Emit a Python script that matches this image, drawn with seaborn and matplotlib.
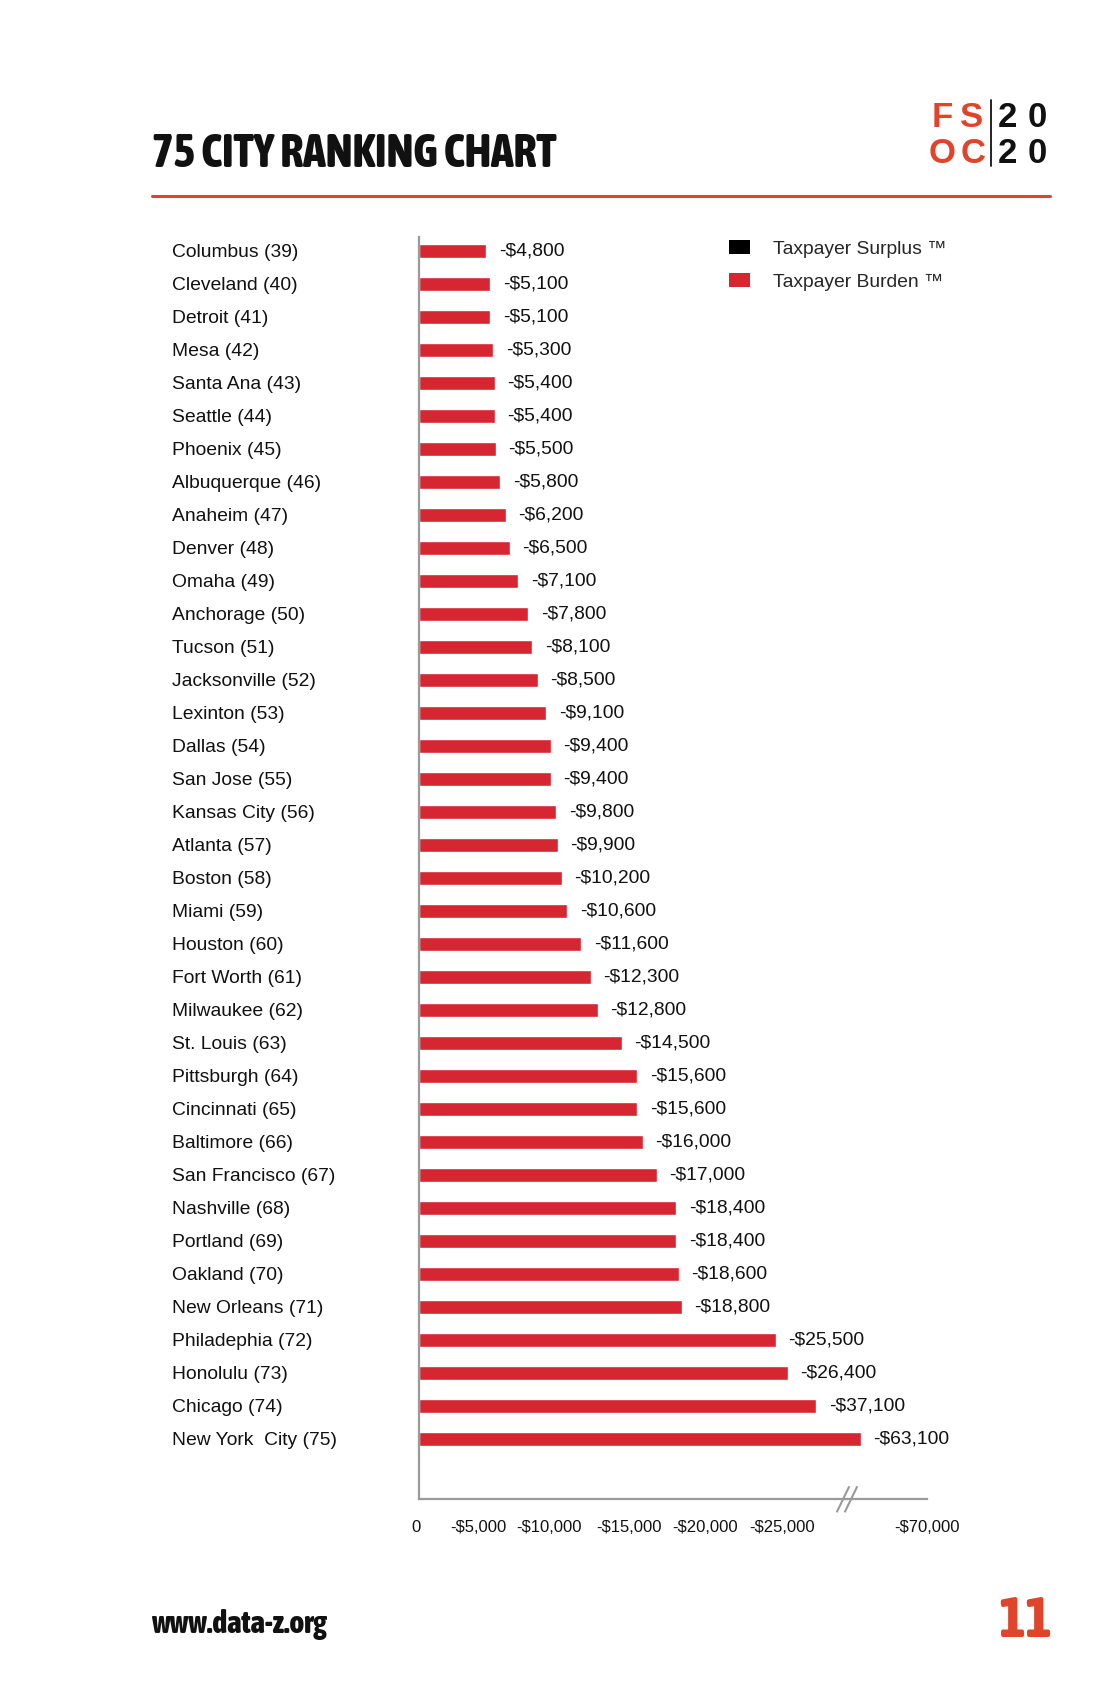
import os
import numpy as np
import pandas as pd
import seaborn as sns
import matplotlib
matplotlib.use("Agg")
import matplotlib.pyplot as plt
import matplotlib.transforms as mtransforms
from matplotlib.patches import Patch
from matplotlib.lines import Line2D
from matplotlib import font_manager
from matplotlib.font_manager import FontProperties

# ---------------- data ----------------
cities = [
    "Columbus (39)", "Cleveland (40)", "Detroit (41)", "Mesa (42)", "Santa Ana (43)",
    "Seattle (44)", "Phoenix (45)", "Albuquerque (46)", "Anaheim (47)", "Denver (48)",
    "Omaha (49)", "Anchorage (50)", "Tucson (51)", "Jacksonville (52)", "Lexinton (53)",
    "Dallas (54)", "San Jose (55)", "Kansas City (56)", "Atlanta (57)", "Boston (58)",
    "Miami (59)", "Houston (60)", "Fort Worth (61)", "Milwaukee (62)", "St. Louis (63)",
    "Pittsburgh (64)", "Cincinnati (65)", "Baltimore (66)", "San Francisco (67)",
    "Nashville (68)", "Portland (69)", "Oakland (70)", "New Orleans (71)",
    "Philadephia (72)", "Honolulu (73)", "Chicago (74)", "New York  City (75)",
]
burden = [
    -4800, -5100, -5100, -5300, -5400, -5400, -5500, -5800, -6200, -6500,
    -7100, -7800, -8100, -8500, -9100, -9400, -9400, -9800, -9900, -10200,
    -10600, -11600, -12300, -12800, -14500, -15600, -15600, -16000, -17000,
    -18400, -18400, -18600, -18800, -25500, -26400, -37100, -63100,
]
tick_values = [0, 5000, 10000, 15000, 20000, 25000, 70000]
tick_labels = ["0", "-$5,000", "-$10,000", "-$15,000", "-$20,000", "-$25,000", "-$70,000"]
legend_labels = ["Taxpayer Surplus \u2122", "Taxpayer Burden \u2122"]

# broken-axis scale knots (value -> display-equivalent)
KV = [0, 26400, 37100, 63100, 70000]
KP = [0, 26400, 28420, 31620, 36310]

df = pd.DataFrame({"city": cities, "burden": burden})
df["amount"] = -df["burden"]

# ---------------- style ----------------
sns.set_theme(style="white")
plt.rcParams["font.family"] = ["Liberation Sans", "DejaVu Sans"]


def pick_condensed_bold():
    best = None
    for f in font_manager.fontManager.ttflist:
        s = (f.name + " " + os.path.basename(f.fname)).lower()
        if not any(k in s for k in ("narrow", "condensed", "cond")):
            continue
        if f.style != "normal" or "italic" in s or "oblique" in s:
            continue
        w = f.weight if isinstance(f.weight, int) else font_manager.weight_dict.get(f.weight, 400)
        if w < 600:
            continue
        score = abs(w - 800)
        if best is None or score < best[0]:
            best = (score, f.fname)
    return best[1] if best else None


_cond = pick_condensed_bold()
if _cond:
    def narrow_fp(size):
        return FontProperties(fname=_cond, size=size)
else:
    def narrow_fp(size):
        return FontProperties(family=["Roboto", "Liberation Sans", "DejaVu Sans"], weight=900, size=size)

RED = "#D62631"
ORANGE = "#E0452B"
GRAY = "#9A9A9A"
INK = "#111111"
FS = 13.9

W, H = 1100, 1700
fig = plt.figure(figsize=(11, 17), dpi=100)
fig.patch.set_facecolor("white")

ax_left, ax_right = 419.2, 926.6
ax_top, ax_bot = 237.3, 1499.3
ax = fig.add_axes([ax_left / W, 1 - ax_bot / H, (ax_right - ax_left) / W, (ax_bot - ax_top) / H])

sns.barplot(data=df, x="amount", y="city", orient="h", color=RED, width=0.42,
            errorbar=None, saturation=1, ax=ax)


def fwd(x):
    return np.interp(x, KV, KP)


def inv(y):
    return np.interp(y, KP, KV)


ax.set_xscale("function", functions=(fwd, inv))
ax.set_xlim(0, 70000)
n = len(cities)
ax.set_ylim(n - 1 + 1.837, -0.415)
ax.set_xlabel("")
ax.set_ylabel("")

for s in ["top", "right"]:
    ax.spines[s].set_visible(False)
for s in ["left", "bottom"]:
    ax.spines[s].set_color(GRAY)
    ax.spines[s].set_linewidth(1.6)

ax.set_xticks(tick_values)
ax.set_xticklabels(tick_labels)
ax.tick_params(axis="x", direction="inout", length=10, width=1.4, color=GRAY,
               labelsize=12, pad=10, labelcolor=INK)
ax.set_yticks(range(n))
ax.set_yticklabels(cities, ha="left")
ax.tick_params(axis="y", length=0, pad=178.2, labelsize=FS, labelcolor=INK)
ax.minorticks_off()

ax.bar_label(ax.containers[0], labels=[f"-${abs(v):,}" for v in burden],
             padding=9, fontsize=FS, color=INK)

# axis break marks
for cx in ((843 - ax_left) / (ax_right - ax_left), (851 - ax_left) / (ax_right - ax_left)):
    dx = 6.3 / (ax_right - ax_left)
    dy = 13 / (ax_bot - ax_top)
    ax.plot([cx - dx, cx + dx], [-dy, dy], transform=ax.transAxes,
            color=GRAY, lw=1.5, clip_on=False, solid_capstyle="butt")

# legend
handles = [Patch(facecolor="black", edgecolor="none"), Patch(facecolor=RED, edgecolor="none")]
fig.legend(handles=handles, labels=legend_labels, loc="upper left",
           bbox_to_anchor=(729 / W, 1 - 240 / H), frameon=False, fontsize=FS,
           handlelength=1.1, handleheight=0.75, handletextpad=1.2, labelspacing=0.8,
           borderpad=0, borderaxespad=0)

# title
title = fig.text(152 / W, 1 - 167 / H, "75 CITY RANKING CHART", color=INK,
                 va="baseline", ha="left", fontproperties=narrow_fp(30))
fig.add_artist(Line2D([152 / W, 1050 / W], [1 - 195.7 / H, 1 - 195.7 / H], color=ORANGE, lw=2.2))

# logo
LOGO = dict(family=["Liberation Sans", "DejaVu Sans"], fontweight="bold", fontsize=25,
            ha="center", va="baseline")
for ch, cx, col, base in [("F", 942, ORANGE, 127), ("S", 972, ORANGE, 127),
                          ("O", 942, ORANGE, 163), ("C", 973, ORANGE, 163),
                          ("2", 1007, INK, 127), ("0", 1037, INK, 127),
                          ("2", 1007, INK, 163), ("0", 1037, INK, 163)]:
    fig.text(cx / W, 1 - base / H, ch, color=col, **LOGO)
fig.add_artist(Line2D([990.7 / W, 990.7 / W], [1 - 100 / H, 1 - 166 / H], color=INK, lw=1.3))

# footer
site = fig.text(150.7 / W, 1 - 1633 / H, "www.data-z.org", color=INK,
                va="baseline", ha="left", fontproperties=narrow_fp(20))
page = fig.text(998 / W, 1 - 1636.7 / H, "11", color=ORANGE,
                va="baseline", ha="left", fontproperties=narrow_fp(40))

# fit widths of the display texts
fig.canvas.draw()
renderer = fig.canvas.get_renderer()
for txt, target in ((title, 404.0), (site, 176.0), (page, 54.0)):
    w = txt.get_window_extent(renderer).width
    txt.set_fontsize(txt.get_fontsize() * target / w)

# nudge x tick labels horizontally as in the original layout
label_dx = [-3, -10.8, -10, 0, 6.6, 14, 0]
for lbl, dxp in zip(ax.get_xticklabels(), label_dx):
    lbl.set_transform(lbl.get_transform() +
                      mtransforms.ScaledTranslation(dxp / 100.0, 0, fig.dpi_scale_trans))

fig.savefig("out.png", dpi=100, facecolor="white")
